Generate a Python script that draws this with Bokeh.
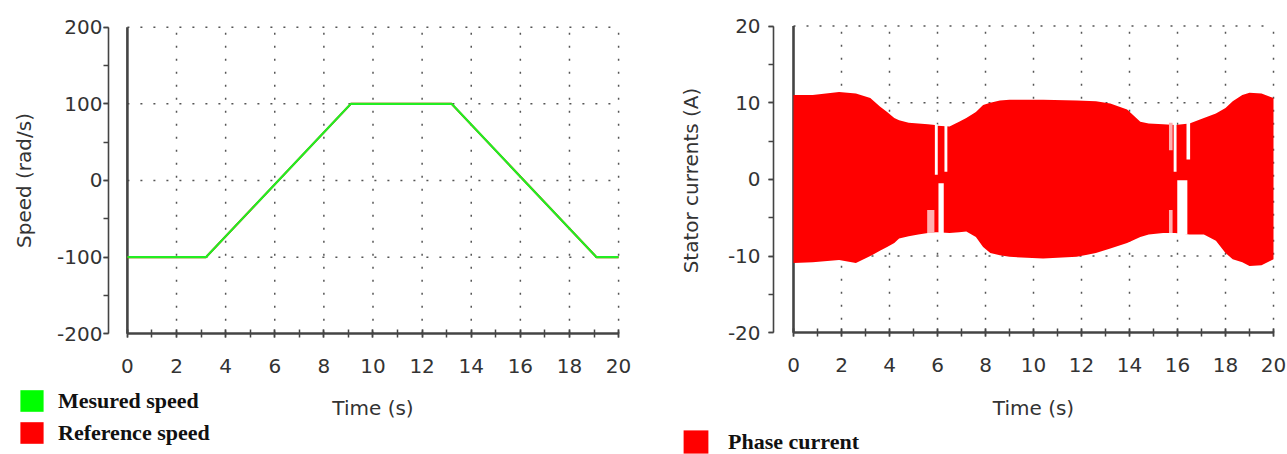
import math
from bokeh.plotting import figure
from bokeh.models import (Range1d, Legend, LegendItem, Label, LinearAxis,
                          SingleIntervalTicker, PrintfTickFormatter)
from bokeh.layouts import row
from bokeh.embed import file_html
from bokeh.resources import INLINE

# ---------------- data ----------------
time_speed = [0, 3.2, 9.1, 13.2, 19.1, 20]
measured_speed = [-100, -100, 100, 100, -100, -100]
reference_speed = [-100, -100, 100, 100, -100, -100]

# envelope of the (dense, high-frequency) phase current
env_time = [0, 0.8, 1.9, 2.6, 3.2, 3.6, 3.9, 4.2, 4.4, 4.8,
            5.2, 5.6, 5.9, 6.0, 6.5, 6.9, 7.2, 7.6, 7.9, 8.2,
            8.6, 9.0, 10.4, 11.8, 12.6, 13.2, 13.9, 14.45, 14.8, 15.4,
            15.9, 16.5, 17.1, 17.6, 18.0, 18.3, 18.7, 19.0, 19.5, 20]
env_upper = [11.0, 11.0, 11.4, 11.2, 10.6, 9.5, 8.8, 8.0, 7.7, 7.4,
             7.3, 7.2, 7.1, 7.0, 6.9, 7.5, 8.0, 8.8, 9.7, 10.0,
             10.3, 10.4, 10.4, 10.3, 10.2, 9.9, 9.1, 7.5, 7.3, 7.2,
             7.1, 7.3, 8.0, 8.6, 9.3, 10.2, 11.0, 11.3, 11.2, 10.6]
env_lower = [-10.9, -10.8, -10.5, -10.9, -10.0, -9.3, -8.8, -8.3, -7.7, -7.4,
             -7.2, -7.0, -6.9, -6.9, -7.0, -6.9, -6.8, -7.5, -8.8, -9.6,
             -9.9, -10.1, -10.3, -10.1, -9.6, -9.0, -8.3, -7.5, -7.2, -7.0,
             -7.0, -7.2, -7.2, -8.0, -9.6, -10.4, -10.8, -11.3, -11.2, -10.4]

# low-frequency gaps in the current near the speed zero crossings
gap_time = [5.72, 5.95, 6.15, 6.35, 15.72, 15.72, 15.9, 16.2, 16.45]
gap_width = [0.3, 0.12, 0.22, 0.12, 0.15, 0.15, 0.12, 0.42, 0.15]
gap_low = [-7.0, 0.6, -7.2, 1.0, 3.8, -7.0, 1.0, -7.2, 2.6]
gap_high = [-4.0, 7.2, -0.5, 7.2, 7.4, -4.0, 7.4, -0.1, 7.4]
gap_color = ["#ffb0b0", "white", "white", "white", "#ffb0b0", "#ffb0b0",
             "white", "white", "white"]

time_limits = [0, 20]
time_grid = [2, 4, 6, 8, 10, 12, 14, 16, 18, 20]
speed_limits = [-200, 200]
speed_grid = [-100, 0, 100, 200]
current_limits = [-20, 20]
current_grid = [-10, 0, 10, 20]

GREEN = "#22ee22"
RED = "#ff0000"
AX = "#444444"
TXT = "#333333"
SANS = "DejaVu Sans"
SERIF = "Liberation Serif"
H = 454


def decorate(p, y_limits, x_grid, y_grid, y_interval, y_axis_at, y_std,
             y_label, y_label_x):
    # dotted grid restricted to the data box
    n = len(x_grid)
    p.segment(x0=x_grid, x1=x_grid, y0=[y_limits[0]] * n, y1=[y_limits[1]] * n,
              line_color="#555555", line_dash="2 11", line_width=1.5)
    m = len(y_grid)
    p.segment(x0=[time_limits[0]] * m, x1=[time_limits[1]] * m, y0=y_grid, y1=y_grid,
              line_color="#555555", line_dash="2 11", line_width=1.5)
    # thick vertical line at t = 0
    p.segment(x0=[time_limits[0]], x1=[time_limits[0]], y0=[y_limits[0]], y1=[y_limits[1]],
              line_color=AX, line_width=2.6)

    xa = LinearAxis(fixed_location=y_limits[0], bounds=tuple(time_limits),
                    ticker=SingleIntervalTicker(interval=2, num_minor_ticks=2),
                    formatter=PrintfTickFormatter(format="%d"))
    ya = LinearAxis(fixed_location=y_axis_at, bounds=tuple(y_limits),
                    ticker=SingleIntervalTicker(interval=y_interval, num_minor_ticks=2),
                    formatter=PrintfTickFormatter(format="%d"))
    for ax in (xa, ya):
        ax.axis_line_color = AX
        ax.major_tick_line_color = AX
        ax.minor_tick_line_color = AX
        ax.major_tick_line_width = 1.5
        ax.minor_tick_line_width = 1.5
        ax.major_label_text_font = SANS
        ax.major_label_text_font_size = "20px"
        ax.major_label_text_color = TXT
    xa.axis_line_width = 2.5
    xa.major_tick_in = 4
    xa.major_tick_out = 4
    xa.minor_tick_in = 4
    xa.minor_tick_out = 4
    xa.major_label_standoff = 21
    ya.axis_line_width = 1.6
    ya.major_tick_in = 0
    ya.major_tick_out = 5
    ya.minor_tick_in = 0
    ya.minor_tick_out = 5
    ya.major_label_standoff = y_std
    p.add_layout(xa, "below")
    p.add_layout(ya, "left")

    p.add_layout(Label(x=10, y=H - 407, y_units="screen", text="Time (s)",
                       text_align="center", text_baseline="middle",
                       text_font=SANS, text_font_size="20px", text_color=TXT))
    p.add_layout(Label(x=y_label_x, y=H - 180, x_units="screen", y_units="screen",
                       text=y_label, angle=math.pi / 2,
                       text_align="center", text_baseline="middle",
                       text_font=SANS, text_font_size="20px", text_color=TXT))


def make_fig(width, xr, yr):
    return figure(width=width, height=H, x_range=Range1d(*xr), y_range=Range1d(*yr),
                  x_axis_type=None, y_axis_type=None,
                  output_backend="svg", toolbar_location=None, min_border=0,
                  outline_line_color=None, background_fill_color="white",
                  border_fill_color="white")


# ---------------- speed plot ----------------
p1 = make_fig(640, (-5.167, 20.892), (-357.47, 234.83))
decorate(p1, speed_limits, time_grid, speed_grid, 100, -0.77, 1, "Speed (rad/s)", 23)
p1.line(time_speed, reference_speed, line_color=RED, line_width=2)
p1.line(time_speed, measured_speed, line_color=GREEN, line_width=2.2)
# zero-height areas: only their legend swatches are visible
leg_g = p1.varea(x=time_speed, y1=measured_speed, y2=measured_speed,
                 fill_color="#00ff00", fill_alpha=1)
leg_r = p1.varea(x=time_speed, y1=reference_speed, y2=reference_speed,
                 fill_color=RED, fill_alpha=1)
legend1 = Legend(items=[LegendItem(label="Mesured speed", renderers=[leg_g]),
                        LegendItem(label="Reference speed", renderers=[leg_r])],
                 location=(17, 8), orientation="vertical", padding=0, margin=0, spacing=5,
                 glyph_width=29, glyph_height=27, label_height=27, label_standoff=12,
                 label_text_font=SERIF, label_text_font_size="22px",
                 label_text_font_style="bold", label_text_color="#111111",
                 border_line_color=None, background_fill_alpha=0)
p1.add_layout(legend1)

# ---------------- current plot ----------------
p2 = make_fig(647, (-6.375, 20.583), (-35.87, 23.325))
decorate(p2, current_limits, time_grid, current_grid, 10, -0.83, 8, "Stator currents (A)", 50)
band = p2.varea(x=env_time, y1=env_lower, y2=env_upper, fill_color=RED)
p2.vbar(x=gap_time, width=gap_width, bottom=gap_low, top=gap_high,
        fill_color=gap_color, line_color=None)
legend2 = Legend(items=[LegendItem(label="Phase current", renderers=[band])],
                 location=(40, -2), orientation="vertical", padding=0, margin=0,
                 glyph_width=31, glyph_height=29, label_height=29, label_standoff=17,
                 label_text_font=SERIF, label_text_font_size="22px",
                 label_text_font_style="bold", label_text_color="#111111",
                 border_line_color=None, background_fill_alpha=0)
p2.add_layout(legend2)

layout = row(p1, p2)
open("out.html", "w").write(file_html(layout, INLINE))
